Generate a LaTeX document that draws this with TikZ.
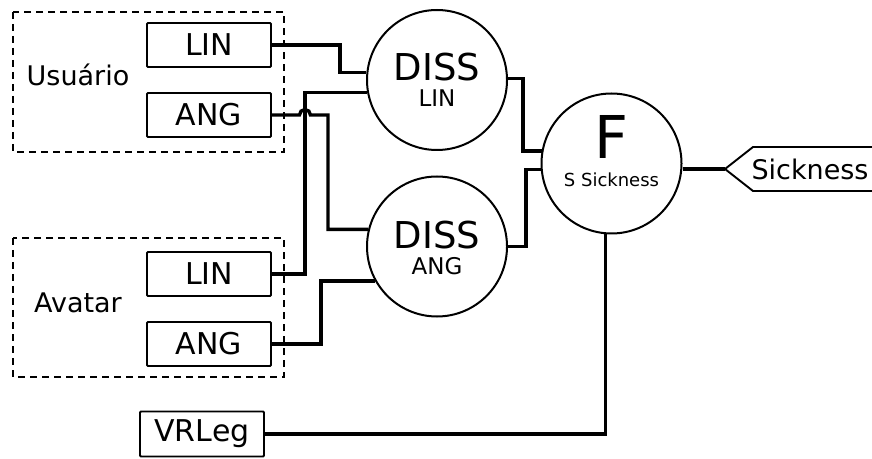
\documentclass[tikz,border=0pt]{standalone}
\usepackage{fontspec}
\setmainfont{DejaVu Sans}
\usetikzlibrary{calc}
\newcommand{\fsz}[1]{\fontsize{#1}{#1}\selectfont}

\begin{document}
\begin{tikzpicture}[x=1pt,y=1pt,
  inbox/.style={draw,line width=1.9pt,rounded corners=1pt,minimum width=124pt,minimum height=44pt,inner sep=0pt,font=\fsz{30}},
  blk/.style={draw,circle,line width=2pt,minimum size=140pt,inner sep=0pt},
  wire/.style={line width=3.4pt},
  grp/.style={line width=2.1pt,dash pattern=on 7pt off 5pt}]
\useasboundingbox (0,0) rectangle (872,458);
% groups
\draw[grp] (13,446) rectangle (284,306);
\draw[grp] (13,220) rectangle (284,81);
\node[font=\fsz{27}] (usr) at (78,383) {Usuário};
\node[font=\fsz{27}] (avt) at (78,155) {Avatar};
% inputs
\node[inbox] (uLin) at (209,413) {LIN};
\node[inbox] (uAng) at (209,343) {ANG};
\node[inbox] (aLin) at (209,184) {LIN};
\node[inbox] (aAng) at (209,114) {ANG};
\node[inbox,minimum height=45pt] (vr) at (202,24) {VRLeg};
% blocks
\node[blk] (dLin) at (437,378) {};
\node[font=\fsz{37}] (dLinA) at ($(dLin)+(0,13)$) {DISS};
\node[font=\fsz{23}] (dLinB) at ($(dLin)+(0,-18)$) {LIN};
\node[blk] (dAng) at (437,211.5) {};
\node[font=\fsz{37}] (dAngA) at ($(dAng)+(0,11.5)$) {DISS};
\node[font=\fsz{23}] (dAngB) at ($(dAng)+(0,-19.5)$) {ANG};
\node[blk] (F) at (611.5,294.5) {};
\node[font=\fsz{59}] (FA) at ($(F)+(0,26.5)$) {F};
\node[font=\fsz{18}] (FB) at ($(F)+(0,-16.5)$) {S Sickness};
% output
\coordinate (tip) at (725,289);
\node[font=\fsz{27}] (sick) at (810,289) {Sickness};
\draw[line width=1.9pt] (880,311) -- (753,311) -- (tip) -- (753,267) -- (880,267);
% wires
\draw[wire] (uLin.east) -- ++(68,0) |- (dLin.174);
\draw[wire] (aLin.east) -- ++(33,0) |- (dLin.190);
\draw[wire] (uAng.east) -- ++(27.5,0) arc[start angle=180,end angle=0,radius=5.5] -- ++(17.5,0) |- (dAng.166);
\draw[wire] (aAng.east) -- ++(49,0) |- (dAng.209);
\draw[wire] (dLin.1) -- ++(15,0) |- (F.170);
\draw[wire] (dAng.east) -- ++(18,0) |- (F.185);
\draw[wire] (F.265) |- (vr.east);
\draw[wire] (F.east |- tip) -- (tip);
\end{tikzpicture}
\end{document}
